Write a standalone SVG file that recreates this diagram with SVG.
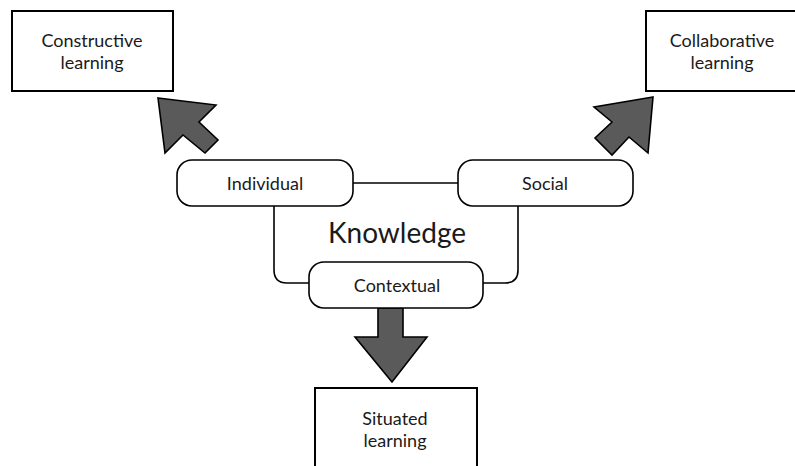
<svg xmlns="http://www.w3.org/2000/svg" width="795" height="466" viewBox="0 0 795 466">
<style>
.box{fill:#fff;stroke:#000;stroke-width:2}
.rbox{fill:#fff;stroke:#000;stroke-width:1.6}
.arrow{fill:#5a5a5a;stroke:#000;stroke-width:1.6;stroke-linejoin:miter}
.conn{fill:none;stroke:#000;stroke-width:1.6}
text{font-family:Lato,"Liberation Sans",sans-serif;fill:#1a1a1a;text-anchor:middle}
.t{font-size:18px}
.k{font-size:28px}
</style>
<rect width="795" height="466" fill="#fff"/>
<g id="connectors">
<line class="conn" x1="353" y1="183" x2="458" y2="183"/>
<path class="conn" d="M274,206 V270 Q274,283 287,283 H309"/>
<path class="conn" d="M518,206 V270 Q518,283 505,283 H483"/>
<polygon class="arrow" points="158,98 216,105 199,122 218,140 205,153 183,135 165,153"/>
<polygon class="arrow" points="653,97 594,107 612,122 595,138 612,155 629,137 648,153"/>
<polygon class="arrow" points="378,308 403,308 403,337 427,337 392,382 355,337 378,337"/>
</g>
<g id="constructive">
<rect class="box" x="12" y="11" width="161" height="80"/>
<text class="t" x="92" y="47">Constructive</text>
<text class="t" x="92" y="69">learning</text>
</g>
<g id="collaborative">
<rect class="box" x="646" y="11" width="160" height="80"/>
<text class="t" x="722" y="47">Collaborative</text>
<text class="t" x="722" y="69">learning</text>
</g>
<g id="individual">
<rect class="rbox" x="177" y="160" width="176" height="46" rx="15"/>
<text class="t" x="265" y="190">Individual</text>
</g>
<g id="social">
<rect class="rbox" x="458" y="160" width="175" height="46" rx="15"/>
<text class="t" x="545" y="190">Social</text>
</g>
<g id="knowledge">
<text class="k" x="397" y="243">Knowledge</text>
</g>
<g id="contextual">
<rect class="rbox" x="309" y="262" width="174" height="46" rx="15"/>
<text class="t" x="397" y="292">Contextual</text>
</g>
<g id="situated">
<rect class="box" x="315" y="388" width="162" height="90"/>
<text class="t" x="395" y="425">Situated</text>
<text class="t" x="395" y="447">learning</text>
</g>
</svg>
